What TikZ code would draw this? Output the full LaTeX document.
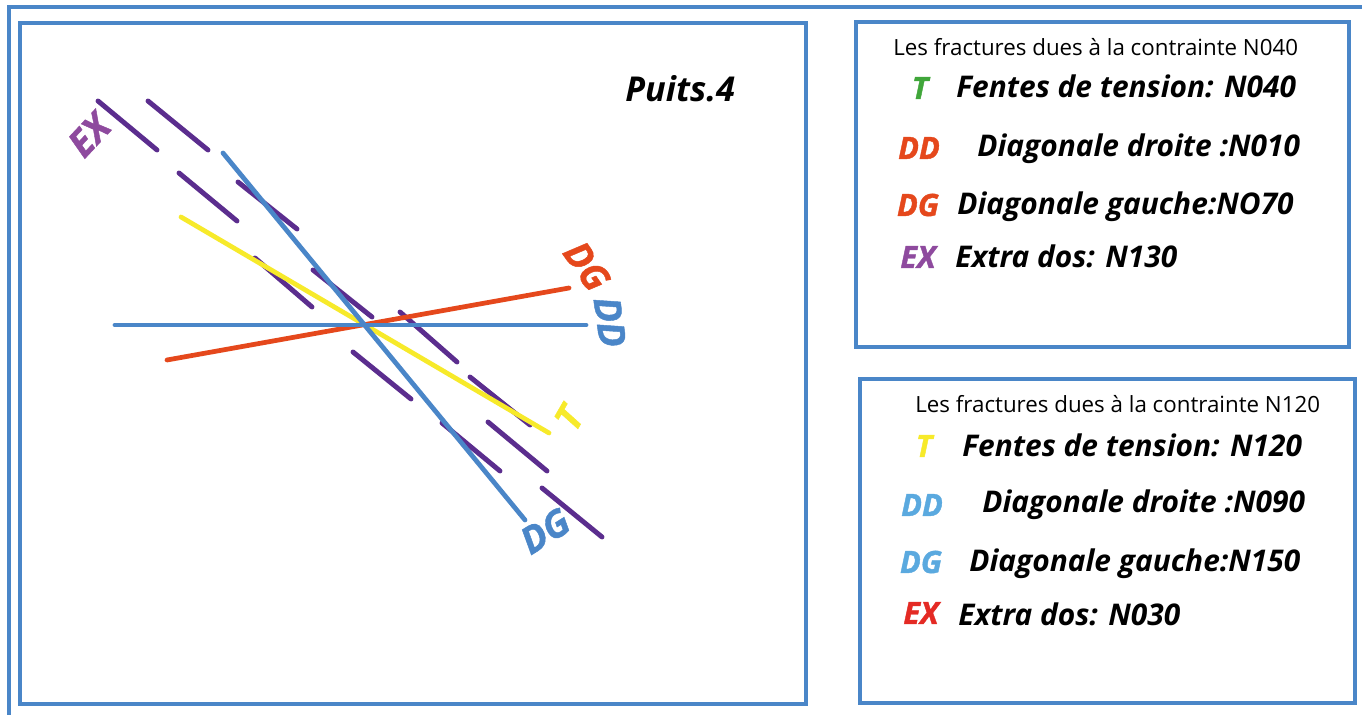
\documentclass[tikz,border=0pt]{standalone}
\usepackage{fontspec}
\setmainfont{Open Sans}
\newfontfamily\heavyfont[FakeBold=1.2]{Open Sans}
\definecolor{frame}{HTML}{4A86C8}
\definecolor{purp}{HTML}{5B2D8E}
\definecolor{lblue}{HTML}{4A86C8}
\definecolor{yel}{HTML}{F7EA2A}
\definecolor{redo}{HTML}{E5481C}
\definecolor{expurp}{HTML}{8E4A9E}
\definecolor{tgreen}{HTML}{40A63A}
\definecolor{skyb}{HTML}{5AA9DF}
\definecolor{exred}{HTML}{E42A24}
\tikzset{
  framest/.style={draw=frame, line width=1.8pt},
  exdash/.style={draw=purp, line width=2.8pt, line cap=round},
  fline/.style={line width=2.7pt, line cap=round},
  lab/.style={font=\fontsize{21}{21}\selectfont\heavyfont\bfseries\itshape, inner sep=0pt},
  legtxt/.style={font=\fontsize{17}{18}\selectfont\bfseries\itshape, anchor=base west, inner sep=0pt},
  legkey/.style={font=\fontsize{17.5}{18}\selectfont\heavyfont\bfseries\itshape, inner sep=0pt},
  legtitle/.style={font=\fontsize{12.7}{13}\selectfont, anchor=base west, inner sep=0pt}
}
\begin{document}
\begin{tikzpicture}[x=0.02cm,y=-0.02cm]
\useasboundingbox (0,0) rectangle (1362,715);
\fill[white] (0,0) rectangle (1362,715);
% frames
\draw[framest] (9,715) -- (9,7) -- (1362,7);
\draw[framest] (20,23) rectangle (806,704);
\draw[framest] (856,22) rectangle (1349,347);
\draw[framest] (860,379) rectangle (1355,703);
% EX dashed fractures
\foreach \a/\b/\c/\d in {98/101/157/150, 148/101/208/150, 179/173/237/221, 238/182/297/229,
  255/258/312/307, 313/270/372/317, 353/352/411/399, 400/312/457/362,
  442/423/500/471, 470/377/530/425, 488/422/547/471, 542/488/602/537}
  \draw[exdash] (\a,\b) -- (\c,\d);
% main fractures
\draw[fline, yel] (181,217) -- (549,433);
\draw[fline, redo] (167,360) -- (569,288);
\draw[fline, lblue] (115,325) -- (586,325);
\draw[fline, lblue] (223,153) -- (525,520);
% labels
\node[lab, text=expurp, rotate=47] (lEX) at (89,135) {EX};
\node[lab, text=redo, rotate=-55] (lDGr) at (587,266) {DG};
\node[lab, text=lblue, rotate=-82] (lDD) at (610,322) {DD};
\node[lab, text=yel, rotate=60] (lT) at (569,418) {T};
\node[lab, text=lblue, rotate=32] (lDGb) at (545,531) {DG};
\node[legtxt, font=\fontsize{19.5}{19.5}\selectfont\bfseries\itshape] (puits) at (625,102) {Puits.4};
% legend 1
\node[legtitle] (t1) at (893,56) {Les fractures dues à la contrainte N040};
\node[legkey, text=tgreen] (k1a) at (920,88) {T};
\node[legtxt] (v1a) at (956,98) {Fentes de tension: N040};
\node[legkey, text=redo] (k1b) at (919,148) {DD};
\node[legtxt] (v1b) at (977,157) {Diagonale droite :N010};
\node[legkey, text=redo] (k1c) at (918,205) {DG};
\node[legtxt] (v1c) at (957,215) {Diagonale gauche:NO70};
\node[legkey, text=expurp] (k1d) at (918,257) {EX};
\node[legtxt] (v1d) at (955,268) {Extra dos: N130};
% legend 2
\node[legtitle] (t2) at (915,413) {Les fractures dues à la contrainte N120};
\node[legkey, text=yel] (k2a) at (924,446) {T};
\node[legtxt] (v2a) at (962,457) {Fentes de tension: N120};
\node[legkey, text=skyb] (k2b) at (922,505) {DD};
\node[legtxt] (v2b) at (982,513) {Diagonale droite :N090};
\node[legkey, text=skyb] (k2c) at (921,562) {DG};
\node[legtxt] (v2c) at (969,572) {Diagonale gauche:N150};
\node[legkey, text=exred] (k2d) at (921,613) {EX};
\node[legtxt] (v2d) at (958,625) {Extra dos: N030};
\end{tikzpicture}
\end{document}
